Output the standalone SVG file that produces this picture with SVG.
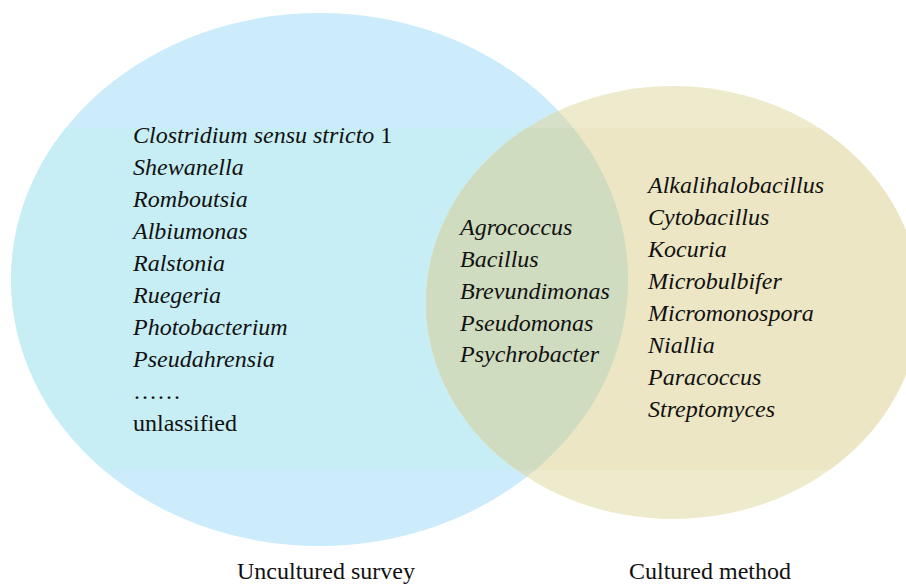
<svg xmlns="http://www.w3.org/2000/svg" width="906" height="584" viewBox="0 0 906 584">
  <style>
    .it { font-family: "Liberation Serif", "Times New Roman", serif; font-style: italic; font-size: 24px; fill: #111; }
    .rm { font-family: "Liberation Serif", "Times New Roman", serif; font-size: 24px; fill: #111; }
  </style>
  <defs>
    <clipPath id="cBlue"><ellipse cx="319.5" cy="279.5" rx="308.5" ry="266.5"/></clipPath>
    <clipPath id="cYellow"><ellipse cx="673" cy="302.5" rx="247" ry="216.5"/></clipPath>
  </defs>
  <rect width="906" height="584" fill="#ffffff"/>

  <g id="uncultured">
    <ellipse cx="319.5" cy="279.5" rx="308.5" ry="266.5" fill="#CCECFB"/>
    <rect x="0" y="128" width="906" height="342" fill="#C7EEF5" clip-path="url(#cBlue)"/>
  </g>

  <g id="cultured">
    <ellipse cx="673" cy="302.5" rx="247" ry="216.5" fill="#EEEBCD"/>
    <rect x="0" y="128" width="906" height="342" fill="#ECE6C4" clip-path="url(#cYellow)"/>
  </g>

  <g id="overlap" clip-path="url(#cBlue)">
    <ellipse cx="673" cy="302.5" rx="247" ry="216.5" fill="#D6E0C8"/>
    <rect x="0" y="128" width="906" height="342" fill="#D0DCC0" clip-path="url(#cYellow)"/>
  </g>

  <g id="uncultured-labels">
    <text class="it" x="133" y="143">Clostridium sensu stricto <tspan style="font-style:normal">1</tspan></text>
    <text class="it" x="133" y="175">Shewanella</text>
    <text class="it" x="133" y="207">Romboutsia</text>
    <text class="it" x="133" y="239">Albiumonas</text>
    <text class="it" x="133" y="271">Ralstonia</text>
    <text class="it" x="133" y="303">Ruegeria</text>
    <text class="it" x="133" y="335">Photobacterium</text>
    <text class="it" x="133" y="367">Pseudahrensia</text>
    <text class="rm" x="133" y="399">……</text>
    <text class="rm" x="133" y="431">unlassified</text>
  </g>

  <g id="shared-labels">
    <text class="it" x="460" y="235">Agrococcus</text>
    <text class="it" x="460" y="267">Bacillus</text>
    <text class="it" x="460" y="299">Brevundimonas</text>
    <text class="it" x="460" y="331">Pseudomonas</text>
    <text class="it" x="460" y="362">Psychrobacter</text>
  </g>

  <g id="cultured-labels">
    <text class="it" x="648" y="193">Alkalihalobacillus</text>
    <text class="it" x="648" y="225">Cytobacillus</text>
    <text class="it" x="648" y="257">Kocuria</text>
    <text class="it" x="648" y="289">Microbulbifer</text>
    <text class="it" x="648" y="321">Micromonospora</text>
    <text class="it" x="648" y="353">Niallia</text>
    <text class="it" x="648" y="385">Paracoccus</text>
    <text class="it" x="648" y="417">Streptomyces</text>
  </g>

  <g id="titles">
    <text class="rm" x="237" y="579">Uncultured survey</text>
    <text class="rm" x="629" y="579">Cultured method</text>
  </g>
</svg>
